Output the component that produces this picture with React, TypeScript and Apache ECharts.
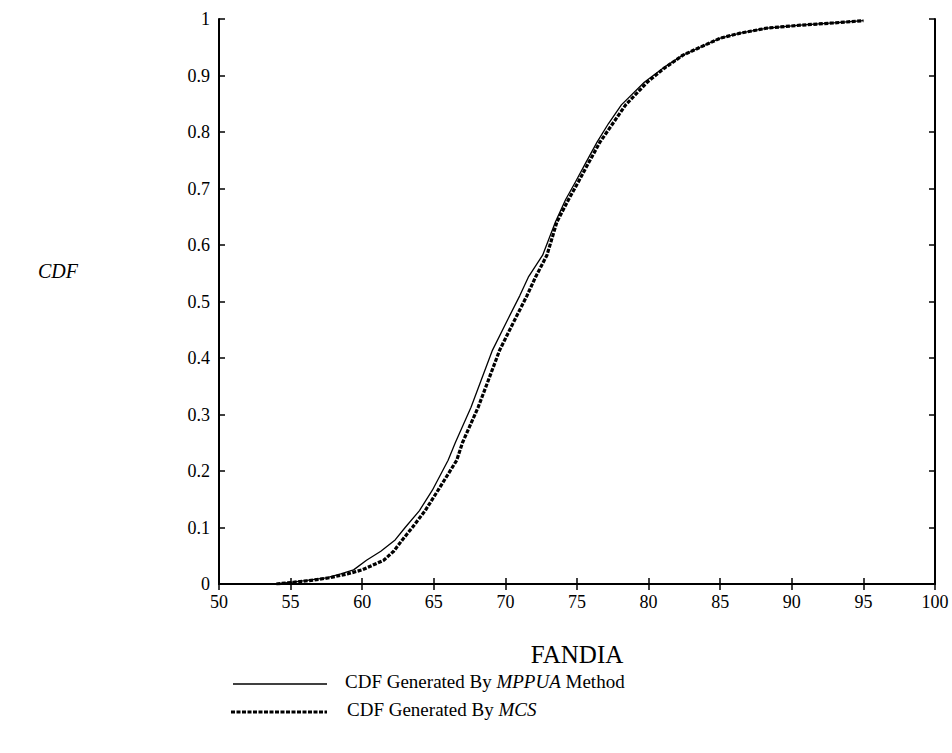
import React, { useEffect, useRef } from "react";
import * as echarts from "echarts";

const xTicks = [50, 55, 60, 65, 70, 75, 80, 85, 90, 95, 100];
const yTicks = [0, 0.1, 0.2, 0.3, 0.4, 0.5, 0.6, 0.7, 0.8, 0.9, 1];

const mppuaX = [53.8, 55.0, 56.0, 57.5, 58.5, 59.4, 60.3, 61.3, 62.3, 63.0, 64.0, 64.9, 66.0, 66.5, 67.6, 68.3, 69.1, 70.2, 71.0, 71.6, 72.6, 73.5, 74.2, 74.9, 75.6, 76.4, 77.2, 78.1, 79.7, 81.0, 82.4, 83.6, 85.0, 86.4, 88.3, 90.6, 92.9, 95.0];
const mppuaP = [0, 0.003, 0.006, 0.011, 0.018, 0.025, 0.042, 0.058, 0.078, 0.1, 0.13, 0.166, 0.219, 0.25, 0.313, 0.36, 0.414, 0.47, 0.51, 0.543, 0.582, 0.641, 0.68, 0.712, 0.745, 0.782, 0.815, 0.848, 0.888, 0.913, 0.936, 0.95, 0.966, 0.975, 0.984, 0.989, 0.993, 0.997];

const mcsX = [54.0, 55.2, 56.3, 57.7, 59.0, 60.0, 61.5, 62.2, 62.8, 63.5, 64.4, 65.3, 66.6, 67.0, 68.1, 68.8, 69.6, 70.7, 71.5, 72.1, 72.9, 73.6, 74.4, 75.1, 75.8, 76.6, 77.5, 78.4, 79.9, 81.1, 82.4, 83.6, 85.0, 86.4, 88.3, 90.6, 92.9, 95.0];
const mcsP = [0, 0.003, 0.006, 0.011, 0.018, 0.025, 0.042, 0.058, 0.078, 0.1, 0.13, 0.166, 0.219, 0.25, 0.313, 0.36, 0.414, 0.47, 0.51, 0.543, 0.582, 0.641, 0.68, 0.712, 0.745, 0.782, 0.815, 0.848, 0.888, 0.913, 0.936, 0.95, 0.966, 0.975, 0.984, 0.989, 0.993, 0.997];

const seriesNames = ["MPPUA", "MCS"];
const xName = "FANDIA";
const yName = "CDF";

const FAMILY = "Liberation Serif";

export default function App() {
  const ref = useRef<HTMLDivElement>(null);
  useEffect(() => {
    if (!ref.current) return;
    const chart = echarts.init(ref.current, null, { renderer: "svg" });
    const pairs = (xs: number[], ps: number[]) => xs.map((x, i) => [x, ps[i]]);
    const axisLine = { show: true, lineStyle: { color: "#000", width: 2 } };
    const axisTick = { show: true, inside: true, length: 6, lineStyle: { color: "#000", width: 1.5 } };
    const plain = (size: number) => ({ fontFamily: FAMILY, fontSize: size, fill: "#000" });
    const ital = (size: number) => ({ fontFamily: FAMILY, fontSize: size, fontStyle: "italic", fill: "#000" });
    chart.setOption({
      animation: false,
      backgroundColor: "#fff",
      textStyle: { fontFamily: FAMILY },
      grid: { left: 219, top: 19, width: 716, height: 565, containLabel: false },
      xAxis: [
        {
          type: "value",
          min: xTicks[0],
          max: xTicks[xTicks.length - 1],
          interval: 5,
          position: "bottom",
          axisLine,
          axisTick,
          splitLine: { show: false },
          axisLabel: { color: "#000", fontFamily: FAMILY, fontSize: 18, margin: 9 },
        },
        {
          type: "value",
          min: xTicks[0],
          max: xTicks[xTicks.length - 1],
          interval: 5,
          position: "top",
          axisLine,
          axisTick,
          splitLine: { show: false },
          axisLabel: { show: false },
        },
      ],
      yAxis: [
        {
          type: "value",
          min: yTicks[0],
          max: yTicks[yTicks.length - 1],
          interval: 0.1,
          position: "left",
          axisLine,
          axisTick,
          splitLine: { show: false },
          axisLabel: {
            color: "#000",
            fontFamily: FAMILY,
            fontSize: 18,
            margin: 9,
            formatter: (v: number) => String(Math.round(v * 10) / 10),
          },
        },
        {
          type: "value",
          min: yTicks[0],
          max: yTicks[yTicks.length - 1],
          interval: 0.1,
          position: "right",
          axisLine,
          axisTick,
          splitLine: { show: false },
          axisLabel: { show: false },
        },
      ],
      series: [
        {
          name: seriesNames[0],
          type: "line",
          data: pairs(mppuaX, mppuaP),
          showSymbol: false,
          lineStyle: { color: "#000", width: 1.3 },
          z: 3,
        },
        {
          name: seriesNames[1],
          type: "line",
          data: pairs(mcsX, mcsP),
          showSymbol: false,
          lineStyle: { color: "#000", width: 3.2, type: [4, 1.5] },
          z: 2,
        },
      ],
      graphic: [
        {
          type: "text",
          x: 38,
          y: 271,
          style: { text: yName, ...ital(20), verticalAlign: "middle" },
        },
        {
          type: "text",
          x: 577,
          y: 654,
          style: { text: xName, ...plain(25), align: "center", verticalAlign: "middle" },
        },
        {
          type: "line",
          shape: { x1: 233, y1: 684, x2: 327, y2: 684 },
          style: { stroke: "#000", lineWidth: 1.5 },
        },
        {
          type: "text",
          x: 345,
          y: 681,
          style: {
            text: "CDF Generated By {i|MPPUA} Method",
            ...plain(19),
            verticalAlign: "middle",
            rich: { i: ital(19) },
          },
        },
        {
          type: "line",
          shape: { x1: 231, y1: 712, x2: 327, y2: 712 },
          style: { stroke: "#000", lineWidth: 3.2, lineDash: [4, 1.5] },
        },
        {
          type: "text",
          x: 347,
          y: 709,
          style: {
            text: "CDF Generated By {i|MCS}",
            ...plain(19),
            verticalAlign: "middle",
            rich: { i: ital(19) },
          },
        },
      ],
    });
    return () => chart.dispose();
  }, []);
  return (
    <div
      ref={ref}
      style={{ position: "fixed", left: 0, top: 0, width: 952, height: 753, background: "#fff" }}
    />
  );
}
